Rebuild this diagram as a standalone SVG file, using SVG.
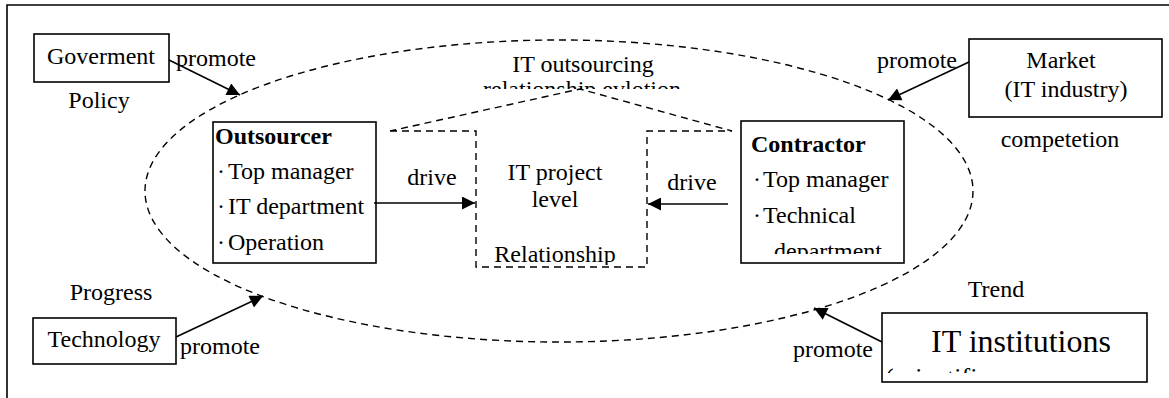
<svg xmlns="http://www.w3.org/2000/svg" width="1169" height="398" viewBox="0 0 1169 398">
<style>
.t{font-family:'Liberation Serif','Times New Roman',Tinos,'DejaVu Serif',serif;font-size:24px;fill:#000}
.b{font-weight:bold}
.m{text-anchor:middle}
.box{fill:#fff;stroke:#000;stroke-width:1.6}
.dash{fill:none;stroke:#000;stroke-width:1.4;stroke-dasharray:7,5}
.arr{fill:none;stroke:#000;stroke-width:1.6;marker-end:url(#ah)}
</style>
<defs>
<marker id="ah" viewBox="0 0 10 10" refX="10" refY="5" markerWidth="16" markerHeight="13" markerUnits="userSpaceOnUse" orient="auto">
<path d="M0,0 L10,5 L0,10 Z" fill="#000"/>
</marker>
<clipPath id="cTitle"><rect x="430" y="40" width="310" height="49"/></clipPath>
<clipPath id="cRel"><rect x="478" y="235" width="167" height="30"/></clipPath>
<clipPath id="cDept"><rect x="743" y="230" width="159" height="24"/></clipPath>
<clipPath id="cSci"><rect x="884" y="355" width="261" height="18"/></clipPath>
</defs>
<rect width="1169" height="398" fill="#fff"/>
<path d="M7,400 V5 H1170" fill="none" stroke="#000" stroke-width="1.6"/>

<g id="ellipse">
<ellipse class="dash" cx="559" cy="191" rx="414" ry="151"/>
<text class="t m" x="583" y="72">IT outsourcing</text>
<text class="t m" x="582" y="97" clip-path="url(#cTitle)">relationship evlotion</text>
</g>

<g id="project">
<path class="dash" d="M390,131 L476,131 L476,267 L647,267 L647,131 L732,131 L580,89 Z"/>
<text class="t m" x="555" y="180">IT project</text>
<text class="t m" x="555" y="207">level</text>
<text class="t m" x="555" y="262" clip-path="url(#cRel)">Relationship</text>
</g>

<g id="government">
<rect class="box" x="34" y="34" width="135" height="48"/>
<text class="t m" x="101" y="64">Goverment</text>
<text class="t m" x="99" y="108">Policy</text>
</g>

<g id="market">
<rect class="box" x="969" y="39" width="193" height="78"/>
<text class="t m" x="1061" y="68">Market</text>
<text class="t m" x="1066" y="97">(IT industry)</text>
<text class="t m" x="1060" y="147">competetion</text>
</g>

<g id="outsourcer">
<rect class="box" x="213" y="122" width="163" height="141"/>
<text class="t b" x="215" y="144">Outsourcer</text>
<text class="t" y="179"><tspan x="217">·</tspan><tspan x="228">Top manager</tspan></text>
<text class="t" y="214"><tspan x="217">·</tspan><tspan x="228">IT department</tspan></text>
<text class="t" y="250"><tspan x="217">·</tspan><tspan x="228">Operation</tspan></text>
</g>

<g id="contractor">
<rect class="box" x="741" y="121" width="163" height="142"/>
<text class="t b" x="751" y="152">Contractor</text>
<text class="t" y="187"><tspan x="753">·</tspan><tspan x="763">Top manager</tspan></text>
<text class="t" y="223"><tspan x="753">·</tspan><tspan x="763">Technical</tspan></text>
<text class="t" x="774" y="259" clip-path="url(#cDept)">department</text>
</g>

<g id="technology">
<rect class="box" x="33" y="318" width="143" height="46"/>
<text class="t m" x="104" y="347">Technology</text>
<text class="t m" x="111" y="300">Progress</text>
</g>

<g id="institutions">
<rect class="box" x="882" y="313" width="265" height="69"/>
<text class="t m" x="1021" y="352" style="font-size:32px">IT institutions</text>
<text class="t" x="885" y="386" style="font-size:26px" clip-path="url(#cSci)">(scientific</text>
<text class="t m" x="996" y="297">Trend</text>
</g>

<g id="connectors">
<path class="arr" d="M169,60 L240,95"/>
<path class="arr" d="M969,62 L888,100"/>
<path class="arr" d="M176,337 L263,296"/>
<path class="arr" d="M882,342 L814,308"/>
<path class="arr" d="M374,203 L475,203"/>
<path class="arr" d="M728,204 L648,204"/>
<text class="t" x="176" y="66">promote</text>
<text class="t" x="877" y="68">promote</text>
<text class="t" x="180" y="354">promote</text>
<text class="t" x="793" y="357">promote</text>
<text class="t m" x="432" y="185">drive</text>
<text class="t m" x="692" y="190">drive</text>
</g>
</svg>
